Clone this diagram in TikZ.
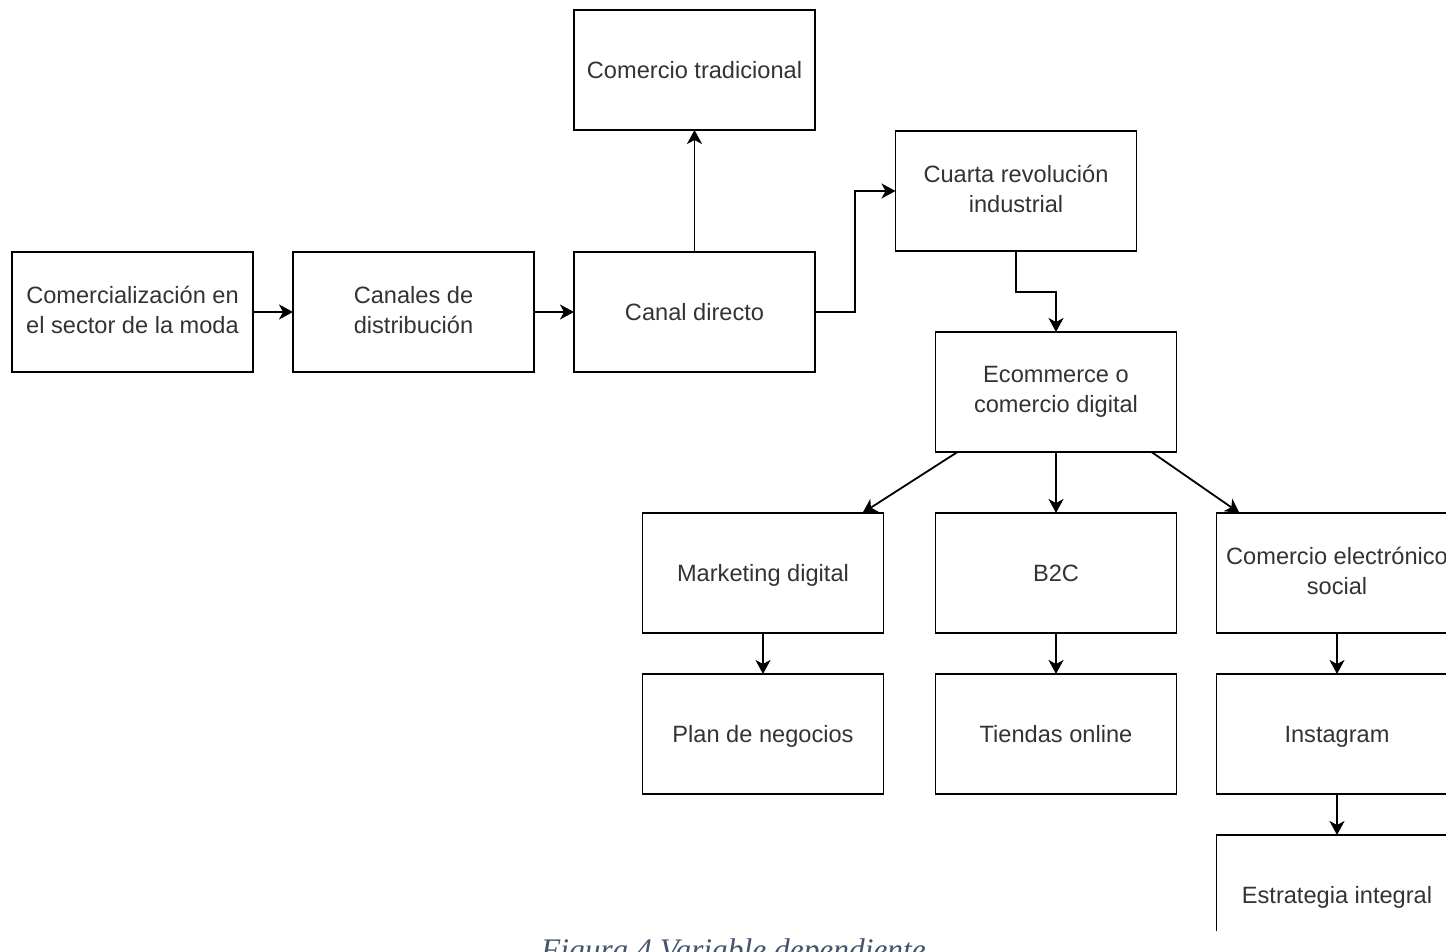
\documentclass[tikz,border=0pt]{standalone}
\usepackage{fontspec}
\setmainfont{Liberation Sans}
\newfontfamily\captionserif{Liberation Serif}
\usetikzlibrary{arrows.meta, positioning}
\definecolor{boxtext}{HTML}{333333}
\definecolor{captionblue}{HTML}{44546A}
\newcommand{\boxtopstrut}{\rule{0pt}{10.7pt}}
\newcommand{\boxbotstrut}{\rule[-2.5pt]{0pt}{2.5pt}}

\begin{document}
\begin{tikzpicture}[x=0.5pt, y=-0.5pt,
    box/.style={draw, line width=0.9pt, outer sep=0pt, minimum width=120.5pt, minimum height=60pt,
        align=center, text=boxtext, font=\fontsize{11.8}{15}\selectfont,
        execute at begin node=\boxtopstrut, execute at end node=\boxbotstrut},
    arr/.style={-{Stealth[length=7pt, width=7.5pt, inset=2pt]}, line width=0.9pt}]
    \useasboundingbox (0,0) rectangle (1446,952);

    \begin{scope}
    \clip (0,0) rectangle (1446,930);

    % Draw the boxes
    \node[box] (moda) at (132.5,312) {Comercialización en\\el sector de la moda};
    \node[box, right=20pt of moda] (canales) {Canales de\\distribución};
    \node[box, right=20pt of canales] (directo) {Canal directo};
    \node[box, above=61pt of directo] (tradicional) {Comercio tradicional};
    \node[box] (cuarta) at (1016,191) {Cuarta revolución\\industrial};
    \node[box] (ecommerce) at (1056,392) {Ecommerce o\\comercio digital};
    \node[box, below=30.5pt of ecommerce] (btoc) {B2C};
    \node[box, left=26pt of btoc] (marketing) {Marketing digital};
    \node[box, right=20pt of btoc] (social) {Comercio electrónico\\social};
    \node[box, below=20.5pt of marketing] (plan) {Plan de negocios};
    \node[box, below=20.5pt of btoc] (tiendas) {Tiendas online};
    \node[box, below=20.5pt of social] (instagram) {Instagram};
    \node[box, below=20.5pt of instagram] (estrategia) {Estrategia integral};

    % Draw the arrows
    \draw[arr] (moda) -- (canales);
    \draw[arr] (canales) -- (directo);
    \draw[arr] (directo) -- (tradicional);
    \draw[arr] (directo.east) -- ++(20pt,0) |- (cuarta.west);
    \draw[arr] (cuarta.south) -- ++(0,-20.5pt) -| (ecommerce.north);
    \draw[arr] ([xshift=11pt]ecommerce.south west) -- ([xshift=-10.5pt]marketing.north east);
    \draw[arr] (ecommerce) -- (btoc);
    \draw[arr] ([xshift=-12.5pt]ecommerce.south east) -- ([xshift=11.5pt]social.north west);
    \draw[arr] (marketing) -- (plan);
    \draw[arr] (btoc) -- (tiendas);
    \draw[arr] (social) -- (instagram);
    \draw[arr] (instagram) -- (estrategia);
    \end{scope}

    % Draw the caption
    \node[anchor=base, text=captionblue, font=\captionserif\itshape\fontsize{15.7}{18}\selectfont]
        (caption) at (733.5,960) {Figura 4 Variable dependiente};
\end{tikzpicture}
\end{document}
